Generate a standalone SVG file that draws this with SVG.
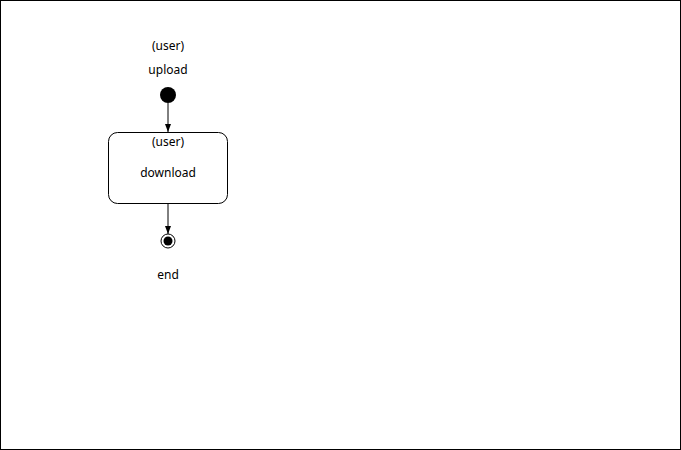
<svg xmlns="http://www.w3.org/2000/svg" width="681" height="450" viewBox="0 0 681 450">
<style>
text{font-family:"Noto Sans","Liberation Sans",sans-serif;font-size:12px;fill:#000;text-anchor:middle}
.edge{stroke:#000;stroke-width:1;fill:none}
</style>
<defs>
<marker id="ah" viewBox="0 0 8 8" refX="8" refY="4" markerWidth="8" markerHeight="8" markerUnits="userSpaceOnUse" orient="auto">
<path d="M0,1 L8,4 L0,7 Z" fill="#000"/>
</marker>
</defs>
<rect x="0.5" y="0.5" width="680" height="449" fill="#fff" stroke="#000"/>
<g id="upload">
<text x="168" y="50">(user)</text>
<text x="168" y="74">upload</text>
<circle cx="168" cy="95" r="8" fill="#000"/>
</g>
<g id="download">
<rect x="108.5" y="132.5" width="119" height="71" rx="9" fill="#fff" stroke="#000"/>
<text x="168" y="146">(user)</text>
<text x="168" y="177">download</text>
</g>
<g id="end">
<circle cx="168" cy="241" r="7" fill="#fff" stroke="#000"/>
<circle cx="168" cy="241" r="4.5" fill="#000"/>
<text x="168" y="279">end</text>
</g>
<g id="connectors">
<line class="edge" x1="168" y1="103" x2="168" y2="132" marker-end="url(#ah)"/>
<line class="edge" x1="168" y1="204" x2="168" y2="234" marker-end="url(#ah)"/>
</g>
</svg>
